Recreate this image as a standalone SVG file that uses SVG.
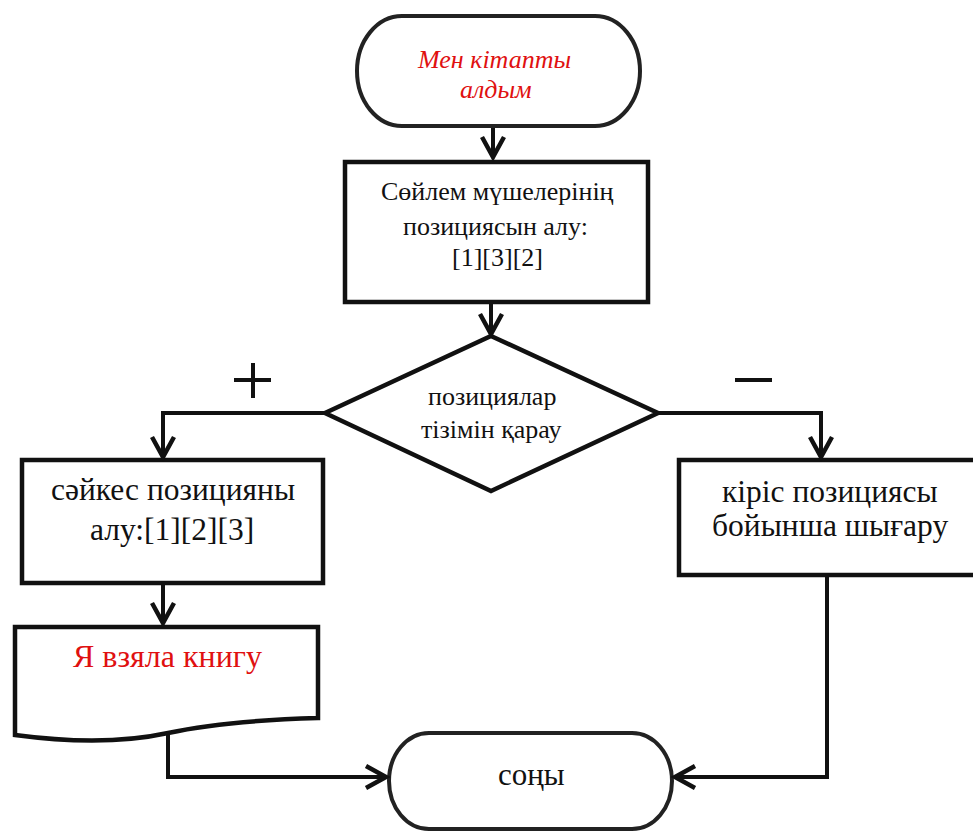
<svg xmlns="http://www.w3.org/2000/svg" width="973" height="832" viewBox="0 0 973 832" font-family="Liberation Serif, Times New Roman, serif">
<style>
.box{fill:#fff;stroke:#111;stroke-width:4.5}
.term{fill:#fff;stroke:#222;stroke-width:4}
.con{fill:none;stroke:#111;stroke-width:4}
.sign{stroke:#111;stroke-width:4}
</style>
<defs>
<marker id="arr" markerUnits="userSpaceOnUse" markerWidth="30" markerHeight="30" viewBox="-24 -15 30 30" refX="0" refY="0" orient="auto" overflow="visible">
<path d="M-20,-11 L0,0 L-20,11" fill="none" stroke="#111" stroke-width="4.5" stroke-linejoin="miter"/>
</marker>
</defs>
<rect width="973" height="832" fill="#fff"/>
<g id="start">
<rect class="term" x="357" y="16" width="283" height="110" rx="45" ry="55"/>
<text x="418" y="68" font-family="Liberation Serif" font-size="26" font-style="italic" fill="#e01010">Мен кітапты</text>
<text x="460" y="98" font-family="Liberation Serif" font-size="26" font-style="italic" fill="#e01010">алдым</text>
</g>
<g id="get-positions">
<rect class="box" x="345" y="162" width="303" height="140"/>
<text x="381" y="200" font-family="Liberation Serif" font-size="26" fill="#111">Сөйлем мүшелерінің</text>
<text x="403" y="235" font-family="Liberation Serif" font-size="26" fill="#111">позициясын алу:</text>
<text x="452" y="266" font-family="Liberation Serif" font-size="26" fill="#111">[1][3][2]</text>
</g>
<g id="decision">
<polygon class="box" points="491,336 658,413 491,491 325,413"/>
<text x="428" y="405" font-family="Liberation Serif" font-size="26" fill="#111">позициялар</text>
<text x="421" y="438" font-family="Liberation Serif" font-size="26" fill="#111">тізімін қарау</text>
</g>
<g id="match">
<rect class="box" x="22" y="460" width="301" height="123"/>
<text x="51" y="500" font-family="Liberation Serif" font-size="31.5" fill="#111">сәйкес позицияны</text>
<text x="90" y="540" font-family="Liberation Serif" font-size="31.5" fill="#111">алу:[1][2][3]</text>
</g>
<g id="output">
<path class="box" d="M15,627 H318 V718 C250,720 200,726 168,733 S90,745 15,735 Z"/>
<text x="73" y="667" font-family="Liberation Serif" font-size="32" fill="#e01010">Я взяла книгу</text>
</g>
<g id="input-order">
<rect class="box" x="679" y="460" width="300" height="115"/>
<text x="722" y="502" font-family="Liberation Serif" font-size="31.5" fill="#111">кіріс позициясы</text>
<text x="712" y="536" font-family="Liberation Serif" font-size="31.5" fill="#111">бойынша шығару</text>
</g>
<g id="end">
<rect class="term" x="389" y="733" width="283" height="96" rx="40" ry="48"/>
<text x="498" y="785" font-family="Liberation Serif" font-size="31" fill="#111">соңы</text>
</g>
<g id="labels">
<line class="sign" x1="234" y1="380" x2="271" y2="380"/>
<line class="sign" x1="253" y1="363" x2="253" y2="398"/>
<line class="sign" x1="735" y1="380" x2="772" y2="380"/>
</g>
<g id="connectors">
<path class="con" d="M493,128 V157" marker-end="url(#arr)"/>
<path class="con" d="M491,304 V334" marker-end="url(#arr)"/>
<path class="con" d="M325,413 H163 V457" marker-end="url(#arr)"/>
<path class="con" d="M658,413 H821 V457" marker-end="url(#arr)"/>
<path class="con" d="M163,585 V623" marker-end="url(#arr)"/>
<path class="con" d="M168,733 V777 H386" marker-end="url(#arr)"/>
<path class="con" d="M827,577 V777 H675" marker-end="url(#arr)"/>
</g>
</svg>
